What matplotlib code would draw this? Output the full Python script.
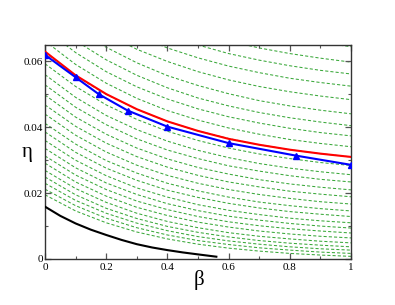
import numpy as np
import matplotlib
matplotlib.use('Agg')
import matplotlib.pyplot as plt
from matplotlib.ticker import MultipleLocator

# ---- data ----
green_beta = [0.0, 0.1, 0.2, 0.3, 0.4, 0.5, 0.6, 0.7, 0.8, 0.9, 1.0]
# eta values of the green dashed family, in units of 1e-4
green_eta_x1e4 = [
    [195, 146, 110, 82, 61, 45, 33, 24, 17, 12, 8],
    [212, 162, 124, 95, 73, 56, 44, 34, 27, 21, 17],
    [230, 178, 139, 109, 86, 68, 55, 45, 37, 31, 27],
    [249, 195, 154, 123, 99, 81, 67, 56, 48, 42, 37],
    [269, 214, 172, 139, 114, 95, 80, 69, 61, 54, 49],
    [291, 234, 191, 157, 132, 112, 97, 85, 76, 69, 64],
    [313, 255, 211, 176, 150, 129, 113, 101, 92, 85, 79],
    [336, 277, 231, 196, 168, 147, 130, 118, 108, 100, 94],
    [360, 300, 253, 216, 188, 165, 148, 135, 124, 116, 110],
    [386, 324, 276, 239, 209, 187, 169, 155, 144, 136, 129],
    [412, 349, 299, 261, 230, 207, 188, 173, 162, 153, 146],
    [440, 376, 325, 285, 254, 230, 211, 196, 184, 174, 167],
    [468, 403, 352, 311, 279, 254, 234, 219, 206, 197, 189],
    [498, 431, 379, 337, 304, 278, 258, 241, 228, 218, 210],
    [529, 461, 408, 365, 331, 305, 283, 267, 253, 242, 234],
    [560, 491, 436, 393, 358, 330, 308, 290, 276, 265, 256],
    [593, 524, 468, 424, 388, 360, 337, 319, 305, 293, 284],
    [627, 556, 500, 455, 418, 389, 366, 347, 332, 320, 310],
    [662, 591, 534, 488, 451, 422, 398, 379, 363, 351, 341],
    [698, 627, 569, 523, 486, 456, 432, 413, 397, 384, 374],
    [734, 663, 605, 558, 520, 489, 465, 445, 429, 416, 405],
    [772, 701, 643, 596, 557, 527, 502, 481, 465, 452, 441],
    [812, 741, 684, 637, 600, 569, 544, 524, 508, 495, 484],
    [852, 782, 725, 679, 641, 611, 586, 566, 549, 536, 525],
    [893, 823, 765, 719, 681, 650, 624, 604, 587, 573, 562],
    [935, 864, 806, 758, 720, 688, 662, 641, 624, 610, 598],
    [978, 908, 851, 804, 766, 735, 709, 688, 671, 657, 645],
]

red_beta = [0.0, 0.1, 0.2, 0.3, 0.4, 0.5, 0.6, 0.7, 0.8, 0.9, 1.0]
red_eta = [0.0630, 0.0558, 0.0501, 0.0455, 0.0418, 0.0389, 0.0365, 0.0347, 0.0332, 0.0320, 0.0310]

blue_beta = [0.0, 0.1, 0.175, 0.27, 0.4, 0.6, 0.82, 1.0]
blue_eta = [0.0620, 0.0552, 0.0501, 0.0451, 0.0402, 0.0352, 0.0314, 0.0286]

black_beta = [0.0, 0.05, 0.1, 0.15, 0.2, 0.25, 0.3, 0.35, 0.4, 0.45, 0.5, 0.56]
black_eta = [0.0159, 0.0131, 0.0108, 0.0089, 0.0073, 0.0058, 0.0045, 0.0035, 0.0027, 0.0020, 0.0014, 0.0007]

x_ticks = [0.0, 0.2, 0.4, 0.6, 0.8, 1.0]
x_labels = ["0", "0.2", "0.4", "0.6", "0.8", "1"]
y_ticks = [0.0, 0.02, 0.04, 0.06]
y_labels = ["0", "0.02", "0.04", "0.06"]

# ---- figure ----
fig = plt.figure(figsize=(3.95, 3.05), dpi=100)
ax = fig.add_axes([45 / 395, 46 / 305, 306 / 395, 214 / 305])

green = np.array(green_eta_x1e4) / 1e4
for row in green:
    ax.plot(green_beta, row, color='#3aa83a', lw=0.75, ls=(0, (3, 2)), zorder=1)
ax.plot(red_beta, red_eta, color='red', lw=1.5, zorder=3)
ax.plot(blue_beta, blue_eta, color='blue', lw=1.5, marker='^', ms=5, zorder=4)
ax.plot(black_beta, black_eta, color='black', lw=1.5, zorder=3)

ax.set_xlim(0, 1)
ax.set_ylim(0, 0.065)

serif = 'Liberation Serif'
ax.set_xticks(x_ticks)
ax.set_xticklabels(x_labels, fontfamily=serif, fontsize=8)
ax.set_yticks(y_ticks)
ax.set_yticklabels(y_labels, fontfamily=serif, fontsize=8)
ax.xaxis.set_minor_locator(MultipleLocator(0.1))
ax.yaxis.set_minor_locator(MultipleLocator(0.01))
ax.tick_params(which='both', direction='in', top=True, right=True, color='#555555')
ax.tick_params(which='major', length=4, width=0.9)
ax.tick_params(which='minor', length=2.2, width=0.8)
ax.tick_params(axis='x', pad=3)
ax.tick_params(axis='y', pad=1.5)
for s in ax.spines.values():
    s.set_color('#333333')
    s.set_linewidth(1.0)

fig.text(27.5 / 395, 1 - 153 / 305, 'η', fontfamily=serif, fontsize=15, ha='center', va='center')
fig.text(199 / 395, 1 - 280 / 305, 'β', fontfamily=serif, fontsize=15, ha='center', va='center')

fig.savefig('out.png', dpi=100)
